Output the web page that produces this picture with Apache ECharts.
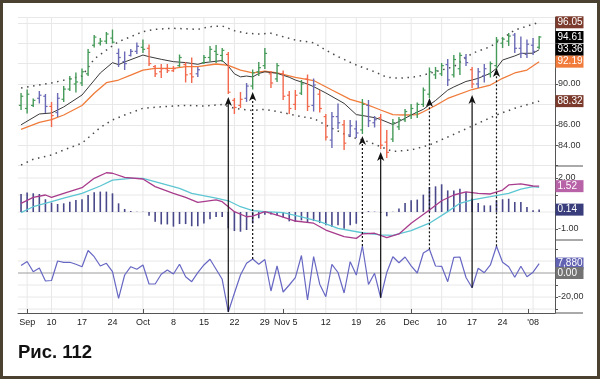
<!DOCTYPE html>
<html><head><meta charset="utf-8">
<script src="https://cdn.jsdelivr.net/npm/echarts@6/dist/echarts.min.js"></script>
<style>html,body{margin:0;padding:0;background:#fff;}#c{width:600px;height:379px;}</style>
</head><body><div id="c"></div>
<script>
// ---------- data ----------
const dates = ['2007-08-31','2007-09-04','2007-09-05','2007-09-06','2007-09-07','2007-09-10','2007-09-11','2007-09-12','2007-09-13','2007-09-14',
'2007-09-17','2007-09-18','2007-09-19','2007-09-20','2007-09-21','2007-09-24','2007-09-25','2007-09-26','2007-09-27','2007-09-28',
'2007-10-01','2007-10-02','2007-10-03','2007-10-04','2007-10-05','2007-10-08','2007-10-09','2007-10-10','2007-10-11','2007-10-12',
'2007-10-15','2007-10-16','2007-10-17','2007-10-18','2007-10-19','2007-10-22','2007-10-23','2007-10-24','2007-10-25','2007-10-26',
'2007-10-29','2007-10-30','2007-10-31','2007-11-01','2007-11-02','2007-11-05','2007-11-06','2007-11-07','2007-11-08','2007-11-09',
'2007-11-12','2007-11-13','2007-11-14','2007-11-15','2007-11-16','2007-11-19','2007-11-20','2007-11-21','2007-11-23','2007-11-26',
'2007-11-27','2007-11-28','2007-11-29','2007-11-30','2007-12-03','2007-12-04','2007-12-05','2007-12-06','2007-12-07','2007-12-10',
'2007-12-11','2007-12-12','2007-12-13','2007-12-14','2007-12-17','2007-12-18','2007-12-19','2007-12-20','2007-12-21','2007-12-24',
'2007-12-26','2007-12-27','2007-12-28','2007-12-31','2008-01-02','2008-01-03'];

const tickIdx  = [1,5,10,15,20,25,30,35,40,45,50,55,59,64,69,74,79,84];
const tickText = ['Sep','10','17','24','Oct','8','15','22','29','Nov 5','12','19','26','Dec','10','17','24',"'08"];
const monthIdx = [1,20,43,64,83.2];

const open  = [87.9,87.6,87.9,88.6,88.8,87.8,87.2,88.5,89.5,90.0, 90.1,91.0,93.8,94.0,94.2,94.5,93.0,92.2,92.8,93.2,
 93.6,93.5,91.7,91.2,91.5,91.3,91.8,91.9,91.0,91.0, 92.1,92.6,93.2,92.8,92.9,88.4,87.9,88.6,89.8,91.2,
 91.8,91.0,90.5,91.0,88.9,88.0,89.1,90.5,87.9,89.0, 86.8,84.5,86.8,86.0,85.0,85.6,85.5,87.9,86.2,86.7,
 84.3,84.6,85.8,86.5,86.9,87.2,88.0,89.0,90.9,91.0, 91.9,90.9,91.5,92.6,91.4,90.0,90.8,91.0,91.8,94.0,
 94.2,94.8,93.5,92.9,93.8,93.6];
const high  = [89.12,89.46,88.58,89.31,89.02,88.24,89.12,89.80,90.78,91.13, 91.52,93.43,94.80,94.51,95.10,95.34,93.48,93.19,93.43,94.07,
 94.36,93.87,91.86,91.96,91.96,91.76,92.89,92.16,92.60,91.67, 92.84,93.73,93.82,93.53,93.14,88.63,89.22,90.10,91.42,92.16,
 93.53,91.27,92.06,91.32,89.31,89.41,90.39,90.93,90.54,89.41, 87.06,87.25,88.09,86.47,86.47,86.42,88.53,88.43,86.86,87.06,
 85.49,86.57,86.76,87.55,88.04,88.19,89.66,91.62,91.67,92.06, 92.45,92.84,93.09,92.94,91.67,91.57,91.96,92.21,94.61,94.61,
 95.00,95.00,94.66,94.36,94.51,94.70];
const low   = [87.45,87.11,87.75,88.09,87.16,85.78,86.76,88.24,89.31,89.17, 89.80,90.78,93.58,93.77,93.92,93.97,91.67,91.37,92.70,92.94,
 93.04,91.76,90.69,90.59,91.08,91.18,91.67,90.15,90.10,90.69, 91.96,92.21,92.06,92.16,89.02,87.06,87.65,88.24,89.46,90.78,
 91.47,89.61,90.20,88.43,87.06,87.45,88.92,87.35,87.30,87.21, 84.46,83.73,85.59,83.53,84.80,84.71,85.10,85.78,85.74,83.63,
 82.75,84.31,85.49,86.27,86.57,86.67,87.75,88.63,90.49,90.78, 89.80,90.64,90.88,91.76,89.61,89.61,90.15,90.64,91.37,93.53,
 93.73,93.04,92.55,92.55,92.84,93.43];
const close = [88.8,89.0,88.4,88.9,87.8,86.9,88.6,89.5,90.5,90.2, 91.2,93.1,94.6,94.2,94.9,94.1,92.6,92.0,93.2,93.7,
 93.4,92.0,91.0,91.5,91.3,91.5,92.6,90.9,90.7,91.4, 92.6,93.4,92.9,93.3,89.2,87.7,88.5,89.8,91.1,91.6,
 93.0,90.1,91.8,88.8,87.6,88.9,90.0,87.8,89.9,87.6, 84.8,86.8,86.2,84.2,85.9,85.2,88.0,86.4,86.5,84.0,
 83.3,86.2,86.5,87.3,87.6,88.0,89.4,91.2,91.3,91.8, 90.4,92.4,92.8,92.1,90.0,91.2,91.5,92.0,94.3,94.4,
 94.7,93.5,93.0,93.9,93.2,94.61];
// bar colour code: g = green, r = red, b = blue
const impulse = ('gggbbrbggg'+'ggggggbbbb'+'grrrrrgrrb'+'ggggrrrbgg'+'grgrrrgrbr'+
                 'rbbrbbgbbr'+'rggggggggg'+'bggbrbbggg'+'gbbbbg').split('');

const fastEma = [[0,86.0],[3,87.06],[5,87.16],[6,87.45],[7,87.75],[10,88.92],[13,91.08],[15,92.09],[16,91.9],[17,92.16],
 [20,92.84],[21,92.68],[23,92.42],[25,92.19],[27,92.1],[29,91.93],[30,92.09],[33,92.3],[34,91.76],[35,91.0],[36,90.7],
 [37,90.78],[38,90.69],[39,91.03],[40,91.2],[42,91.05],[44,90.66],[45,90.39],[47,90.0],[48,89.74],[50,89.12],[53,88.1],
 [55,87.0],[56,86.91],[58,86.7],[59,86.52],[61,86.03],[62,86.32],[64,86.96],[66,87.52],[68,88.38],[70,89.4],[71,89.71],
 [73,90.25],[74,90.39],[75,90.56],[77,91.05],[78,91.54],[79,92.35],[81,92.75],[82,93.0],[84,93.02],[85,93.36]];
const slowEma = [[0,85.56],[3,86.23],[5,86.5],[7,86.96],[10,87.89],[12,89.09],[14,90.13],[16,90.39],[18,90.88],[20,91.37],
 [22,91.54],[25,91.54],[27,91.7],[29,91.7],[32,91.96],[34,91.83],[36,91.37],[38,91.1],[40,91.25],[42,91.1],[45,90.65],
 [48,90.34],[51,89.41],[54,88.5],[56,88.14],[59,87.45],[61,87.0],[63,86.96],[65,87.0],[66,87.28],[68,87.89],[70,88.58],
 [74,89.46],[77,89.9],[79,90.56],[81,91.08],[83,91.37],[85,92.19]];
const upperBand = [[0,89.6],[5,90.1],[10,90.78],[12,92.45],[14,93.33],[16,94.15],[18,94.64],[20,95.13],[22,95.36],[25,95.46],
 [29,95.36],[31,95.62],[33,95.69],[35,95.23],[37,94.97],[39,94.9],[41,94.97],[43,94.64],[45,94.31],[48,94.05],[50,93.33],
 [52,92.68],[55,91.86],[58,91.2],[60,90.66],[62,90.56],[65,90.72],[68,91.2],[71,91.7],[74,93.0],[77,93.66],[79,94.48],
 [81,95.29],[85,96.05]];
const lowerBand = [[0,82.06],[2,82.62],[5,83.04],[7,83.53],[10,84.2],[13,85.74],[15,86.47],[17,86.96],[20,87.62],[23,87.77],
 [27,87.9],[30,87.84],[33,87.99],[35,87.62],[38,87.4],[40,87.52],[43,87.19],[46,86.79],[48,86.62],[51,85.66],[54,84.83],
 [57,84.34],[59,83.85],[61,83.38],[64,83.53],[67,84.02],[70,84.8],[74,85.88],[78,86.96],[81,87.62],[85,88.32]];

const macdLine = [[0,0.51],[2,0.86],[4,1.0],[5,0.86],[7,1.1],[10,1.43],[12,1.98],[14,2.31],[15,2.28],[17,2.04],[20,1.94],
 [22,1.49],[25,1.1],[27,0.86],[29,0.57],[32,0.71],[33,0.61],[35,0.02],[37,-0.28],[38,-0.24],[40,0.02],[42,-0.18],[45,-0.53],
 [48,-0.66],[50,-1.06],[53,-1.45],[55,-1.55],[56,-1.29],[58,-1.25],[60,-1.51],[62,-1.29],[64,-0.66],[67,0.12],[69,0.66],
 [71,1.0],[73,1.19],[75,1.1],[77,1.06],[79,1.29],[80,1.59],[82,1.65],[84,1.53],[85,1.52]];
const signalLine = [[0,-0.04],[2,0.31],[5,0.61],[7,0.81],[10,1.1],[13,1.53],[15,1.88],[18,1.98],[20,1.98],[23,1.69],[26,1.39],
 [28,1.1],[32,0.81],[34,0.66],[36,0.31],[38,0.08],[40,0.02],[43,-0.04],[46,-0.28],[49,-0.57],[52,-0.96],[56,-1.22],[59,-1.35],
 [61,-1.37],[64,-1.1],[67,-0.66],[70,0.02],[72,0.51],[74,0.71],[77,0.9],[80,1.1],[82,1.34],[84,1.49],[85,1.45]];
const histogram = [1.06,1.14,1.1,1.06,0.75,0.55,0.47,0.51,0.61,0.71, 0.75,1.0,1.16,1.2,1.2,1.1,0.51,0.18,0.06,0.02,
 0.01,-0.22,-0.57,-0.73,-0.73,-0.86,-0.71,-0.71,-0.84,-0.84, -0.67,-0.43,-0.29,-0.29,-0.96,-1.12,-1.16,-1.06,-0.67,-0.37,
 -0.16,-0.14,-0.2,-0.33,-0.55,-0.59,-0.49,-0.59,-0.53,-0.65, -0.78,-0.88,-0.78,-0.98,-0.78,-0.69,-0.1,0.05,0.02,-0.05,
 -0.25,0.02,0.2,0.53,0.69,0.73,1.02,1.47,1.51,1.63, 1.27,1.27,1.37,1.18,0.78,0.53,0.39,0.39,0.69,0.75,
 0.78,0.59,0.59,0.29,0.1,0.14];
const force = [6250,9580,1080,4170,-6670,-6250,10000,8920,8920,7250, 5250,18750,13580,5830,8080,1080,-21080,-1670,5250,3080,
 6670,-9170,-9170,-1080,2500,-830,7250,-3080,-7250,250, 6670,11420,3080,-5250,-32500,-16920,-1670,8080,11670,7250,
 11250,-15000,5830,-15830,-10000,-3920,14580,-22500,13580,-9330, -19750,7250,420,-16670,9420,-1670,22500,-9580,-250,-20670,
 420,13580,8580,13330,6000,0,16670,19750,5830,5580, -7250,13080,13330,-3750,-12330,3920,250,6670,22250,9000,
 5250,-3580,5580,-3080,670,7880];

// arrows: [day index, price at arrow tip, style]
const arrows = [[34,88.73,'solid'],[38,89.22,'dash'],[56,84.9,'dash'],[59,83.33,'solid'],[67,88.63,'dash'],[74,88.92,'solid'],[78,91.57,'dash']];
// last-value tags on the right axis
const tagPanel = [0,0,0,0,0,1,1,2,2];
const tagValue = [96.05,94.61,93.36,92.19,88.32,1.52,0.14,7880,0];
const tagColor = ['#7b3a2c','#000000','#000000','#f07b3a','#7b3a2c','#b862a8','#393d7c','#6363b3','#737373'];

const topLabels = [84,86,90];
const midTicks = [2,1,0,-1], midLabels = [2,-1], midGrid = [2,1,0,-1];
const botTicks = [20000,10000,0,-10000,-20000,-30000], botLabels = [-20000], botGrid = [20000,10000,-10000,-20000,-30000];

// ---------- chart ----------
const chart = echarts.init(document.getElementById('c'), null, {width:600, height:379});
const FONT = '"Liberation Sans", Arial, sans-serif';
const colors = {g:'#459a58', r:'#f2684c', b:'#6a6ab6'};
const AX = '#555';
const xMin = -0.5, xMax = 87.6;

function vGrid(params, api){
  const cs = params.coordSys;
  const x = api.coord([api.value(0), 0])[0];
  return {type:'line', shape:{x1:x, y1:cs.y, x2:x, y2:cs.y+cs.height}, style:{stroke:'#e8e8e8', lineWidth:1}};
}
function hGrid(params, api){
  const cs = params.coordSys;
  const y = api.coord([0, api.value(0)])[1];
  const zero = api.value(0) === 0 && api.value(1) === 1;
  return {type:'line', shape:{x1:cs.x, y1:y, x2:cs.x+cs.width, y2:y}, style:{stroke: zero ? '#9c9c9c' : '#e8e8e8', lineWidth:1}};
}
function ohlc(params, api){
  const i = api.value(0);
  const h = api.coord([i, api.value(2)]), l = api.coord([i, api.value(3)]);
  const o = api.coord([i, api.value(1)]), c = api.coord([i, api.value(4)]);
  const col = colors[impulse[params.dataIndex]];
  const x = h[0];
  return {type:'group', children:[
    {type:'line', shape:{x1:x, y1:h[1], x2:x, y2:l[1]}, style:{stroke:col, lineWidth:1.4}},
    {type:'line', shape:{x1:x-2.2, y1:o[1], x2:x, y2:o[1]}, style:{stroke:col, lineWidth:1.2}},
    {type:'line', shape:{x1:x, y1:c[1], x2:x+2.2, y2:c[1]}, style:{stroke:col, lineWidth:1.2}}
  ]};
}
function histBar(params, api){
  const a = api.coord([api.value(0), 0]), b = api.coord([api.value(0), api.value(1)]);
  return {type:'line', shape:{x1:a[0], y1:a[1], x2:b[0], y2:b[1]}, style:{stroke:'#48488a', lineWidth:1.6}};
}

const grids = [
  {left:18, right:45, top:17.7, height:147.9},
  {left:18, right:45, top:166, height:74},
  {left:18, right:45, top:240, height:73}
];

const xAxes = [0,1,2].map(k => ({
  type:'value', gridIndex:k, min:xMin, max:xMax,
  axisLine:{show:k===2, onZero:false, lineStyle:{color:AX}},
  axisTick:{show:k===2, inside:true, length:4, customValues:monthIdx, lineStyle:{color:AX}},
  axisLabel:{show:k===2, customValues:tickIdx, fontSize:9, color:'#222', margin:5, fontFamily:FONT,
    formatter: v => { const j = tickIdx.indexOf(Math.round(v)); if (j < 0) return ''; return tickText[j] === 'Nov 5' ? '{n|Nov 5}' : tickText[j]; },
    rich:{n:{fontSize:9, color:'#222', fontFamily:FONT, padding:[0,19,0,0]}}},
  splitLine:{show:false}
}));

const yBase = {type:'value', position:'right', axisLine:{show:true, onZero:false, lineStyle:{color:AX}},
  axisTick:{show:true, length:3, lineStyle:{color:AX}}, splitLine:{show:false}};
const yAxes = [
  Object.assign({}, yBase, {gridIndex:0, min:82, max:96.5, interval:2,
    axisLabel:{fontSize:9, color:'#333', margin:3, fontFamily:FONT, formatter: v => topLabels.indexOf(v) >= 0 ? v.toFixed(2) : ''},
    splitLine:{show:true, lineStyle:{color:'#e8e8e8'}}}),
  Object.assign({}, yBase, {gridIndex:1, min:-1.647, max:2.706,
    axisTick:{show:true, length:3, customValues:midTicks, lineStyle:{color:AX}},
    axisLabel:{fontSize:9, color:'#333', margin:3, fontFamily:FONT, customValues:midLabels, formatter: v => v.toFixed(2)}}),
  Object.assign({}, yBase, {gridIndex:2, min:-33333, max:27500,
    axisTick:{show:true, length:3, customValues:botTicks, lineStyle:{color:AX}},
    axisLabel:{fontSize:9, color:'#333', margin:3, fontFamily:FONT, customValues:botLabels,
      formatter: v => v.toLocaleString('en-US'), width:28, overflow:'truncate', ellipsis:''}})
];

const lineS = (name, k, data, color, width, extra) => Object.assign({
  name, type:'line', xAxisIndex:k, yAxisIndex:k, data, showSymbol:false, symbol:'none', silent:true,
  lineStyle:{color, width}, z:4
}, extra || {});

const series = [
  {type:'custom', xAxisIndex:0, yAxisIndex:0, data:tickIdx.map(v=>[v]), renderItem:vGrid, silent:true, z:0},
  {type:'custom', xAxisIndex:1, yAxisIndex:1, data:tickIdx.map(v=>[v]), renderItem:vGrid, silent:true, z:0},
  {type:'custom', xAxisIndex:2, yAxisIndex:2, data:tickIdx.map(v=>[v]), renderItem:vGrid, silent:true, z:0},
  {type:'custom', xAxisIndex:1, yAxisIndex:1, data:midGrid.map(v=>[v,0]), renderItem:hGrid, silent:true, z:0},
  {type:'custom', xAxisIndex:2, yAxisIndex:2, data:botGrid.map(v=>[v,0]).concat([[0,1]]), renderItem:hGrid, silent:true, z:0},
  lineS('upper', 0, upperBand, '#4a4a4a', 1.5, {lineStyle:{color:'#4a4a4a', width:1.5, type:[1.5,4.6], cap:'butt'}, z:2}),
  lineS('lower', 0, lowerBand, '#4a4a4a', 1.5, {lineStyle:{color:'#4a4a4a', width:1.5, type:[1.5,4.6], cap:'butt'}, z:2}),
  lineS('slow', 0, slowEma, '#f07b3a', 1.3),
  lineS('fast', 0, fastEma, '#3a3a3a', 1),
  {type:'custom', xAxisIndex:0, yAxisIndex:0, renderItem:ohlc, silent:true, z:5,
    encode:{x:0, y:[1,2,3,4]}, data:dates.map((d,i)=>[i, open[i], high[i], low[i], close[i]])},
  {type:'custom', xAxisIndex:1, yAxisIndex:1, renderItem:histBar, silent:true, z:3,
    encode:{x:0, y:1}, data:histogram.map((v,i)=>[i,v])},
  lineS('signal', 1, signalLine, '#5cc6d2', 1.3),
  lineS('macd', 1, macdLine, '#a83c8c', 1.3),
  lineS('force', 2, force.map((v,i)=>[i,v]), '#6767c4', 1.2)
];

chart.setOption({
  animation:false, backgroundColor:'#fff',
  textStyle:{fontFamily:FONT},
  title:{text:'Рис. 112', left:18, top:343, padding:0, textStyle:{fontSize:18.5, fontWeight:'bold', color:'#111', fontFamily:FONT}},
  grid:grids, xAxis:xAxes, yAxis:yAxes, series
});

// ---------- overlays positioned through the axes ----------
const gfx = [];
arrows.forEach(([i, tip, kind]) => {
  const p0 = chart.convertToPixel({gridIndex:2}, [i, force[i]]);
  const p1 = chart.convertToPixel({gridIndex:0}, [i, tip]);
  const x = p1[0], y = p1[1];
  gfx.push({type:'line', silent:true, z:100, shape:{x1:x, y1:p0[1], x2:x, y2:y+6},
    style:{stroke:'#111', lineWidth:1.2, lineDash: kind === 'dash' ? [2,2] : null}});
  gfx.push({type:'polygon', silent:true, z:101, shape:{points:[[x,y],[x-3.6,y+9],[x,y+6.5],[x+3.6,y+9]]}, style:{fill:'#111'}});
});
const fmtTag = (v, k) => k === 2 ? (v === 0 ? '0.00' : v.toLocaleString('en-US')) : v.toFixed(2);
tagValue.forEach((v, j) => {
  const k = tagPanel[j];
  const y = chart.convertToPixel({gridIndex:k}, [0, v])[1];
  gfx.push({type:'rect', silent:true, z:50, shape:{x:555.5, y:y-6, width:28, height:12}, style:{fill:tagColor[j]}});
  gfx.push({type:'text', silent:true, z:51, x:557.5, y:y, style:{text:fmtTag(v,k), fill:'#fff', fontSize:10, fontFamily:FONT, verticalAlign:'middle'}});
});
// right-hand axis strip borders and x-axis extension
const yTop1 = chart.convertToPixel({gridIndex:1}, [0, yAxes[1].max])[1];
const yTop2 = chart.convertToPixel({gridIndex:2}, [0, yAxes[2].max])[1];
const yBot2 = chart.convertToPixel({gridIndex:2}, [0, yAxes[2].min])[1];
[yTop1, yTop2, yBot2].forEach(y => gfx.push({type:'line', silent:true, z:40, shape:{x1:555, y1:y, x2:583, y2:y}, style:{stroke:AX, lineWidth:1}}));
gfx.push({type:'rect', silent:true, z:200, shape:{x:1.5, y:1.5, width:597, height:376}, style:{fill:null, stroke:'#4b4130', lineWidth:3}});
chart.setOption({graphic:gfx});
</script></body></html>
